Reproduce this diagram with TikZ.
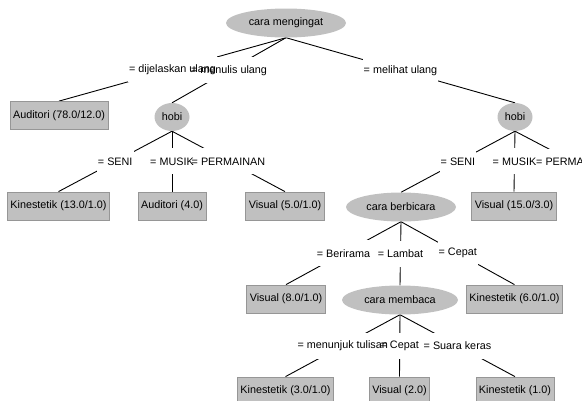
\documentclass[tikz,border=0pt]{standalone}
\usepackage{fontspec}
\setmainfont{Liberation Sans}
\usetikzlibrary{calc,shapes.geometric}
\definecolor{nodegray}{RGB}{192,192,192}
\definecolor{rimgray}{RGB}{150,150,150}
\pgfdeclarelayer{edges}
\pgfdeclarelayer{lbg}
\pgfsetlayers{edges,lbg,main}
\newcommand\elab[3]{%
  \begin{pgfonlayer}{lbg}\node[labbg] (#1) at (#2) {\phantom{#3}};\end{pgfonlayer}
  \node[labtxt] (#1t) at (#1) {#3};}
\begin{document}
\begin{tikzpicture}[x=1pt,y=-1pt,
  every node/.style={font=\fontsize{10.8}{12}\selectfont, text=black},
  oval/.style={ellipse, fill=nodegray, inner sep=0pt},
  leaf/.style={rectangle, fill=nodegray, draw=rimgray, line width=0.8pt, minimum height=28pt, inner xsep=3pt, inner ysep=0pt},
  edge/.style={draw=black, line width=0.9pt},
  labbg/.style={fill=white, inner xsep=1pt, inner ysep=0pt, minimum height=26pt},
  labtxt/.style={inner sep=0pt}]
\useasboundingbox (0,0) rectangle (582,400);
\clip (0,0) rectangle (582,400);
% tree nodes
\node[oval, minimum width=120pt, minimum height=29pt] (root) at (286,23) {cara mengingat};
\node[leaf, minimum width=96pt] (aud1) at (59,115.5) {Auditori (78.0/12.0)};
\node[oval, minimum width=35pt, minimum height=28pt] (hobi1) at (172,117) {hobi};
\node[oval, minimum width=35pt, minimum height=28pt] (hobi2) at (515,117) {hobi};
\node[leaf, minimum width=101pt] (kin1) at (58.5,206) {Kinestetik (13.0/1.0)};
\node[leaf, minimum width=64pt] (aud2) at (172,206) {Auditori (4.0)};
\node[leaf, minimum width=74pt] (vis1) at (285,206) {Visual (5.0/1.0)};
\node[oval, minimum width=110pt, minimum height=29pt] (cb) at (401,207) {cara berbicara};
\node[leaf, minimum width=80pt] (vis2) at (514,206) {Visual (15.0/3.0)};
\coordinate (offc) at (631,192);
\node[leaf, minimum width=76pt] (vis3) at (286,299) {Visual (8.0/1.0)};
\node[oval, minimum width=116pt, minimum height=29pt] (cm) at (400,300) {cara membaca};
\node[leaf, minimum width=95pt] (kin2) at (514.5,299) {Kinestetik (6.0/1.0)};
\node[leaf, minimum width=93pt] (kin3) at (285.5,391) {Kinestetik (3.0/1.0)};
\node[leaf, minimum width=57pt] (vis4) at (399.5,391) {Visual (2.0)};
\node[leaf, minimum width=76pt] (kin4) at (515,391) {Kinestetik (1.0)};
% edges
\begin{pgfonlayer}{edges}
\draw[edge] (root.south) -- (aud1.north);
\draw[edge] (root.south) -- (hobi1.south |- hobi1.north);
\draw[edge] (root.south) -- (hobi2.north);
\draw[edge] (hobi1.south) -- (kin1.north);
\draw[edge] (hobi1.south) -- (aud2.north);
\draw[edge] (hobi1.south) -- (vis1.north);
\draw[edge] (hobi2.south) -- (cb.north);
\draw[edge] (hobi2.south) -- (vis2.north);
\draw[edge] (hobi2.south) -- (offc);
\draw[edge] (cb.south) -- (vis3.north);
\draw[edge] (cb.south) -- (cm.north);
\draw[edge] (cb.south) -- (kin2.north);
\draw[edge] (cm.south) -- (kin3.north);
\draw[edge] (cm.south) -- (vis4.north);
\draw[edge] (cm.south) -- (kin4.north);
\end{pgfonlayer}
% edge labels
\elab{la}{$(root.south)!.5!(aud1.north)$}{= dijelaskan ulang}
\elab{lb}{$(root.south)!.5!(hobi1.north)$}{= menulis ulang}
\elab{lc}{$(root.south)!.5!(hobi2.north)$}{= melihat ulang}
\elab{ld}{$(hobi1.south)!.5!(kin1.north)$}{= SENI}
\elab{le}{$(hobi1.south)!.5!(aud2.north)$}{= MUSIK}
\elab{lf}{$(hobi1.south)!.5!(vis1.north)$}{= PERMAINAN}
\elab{lg}{$(hobi2.south)!.5!(cb.north)$}{= SENI}
\elab{lh}{$(hobi2.south)!.5!(vis2.north)$}{= MUSIK}
\elab{li}{$(hobi2.south)!.5!(offc)$}{= PERMAINAN}
\elab{lj}{$(cb.south)!.5!(vis3.north)$}{= Berirama}
\elab{lk}{$(cb.south)!.5!(cm.north)$}{= Lambat}
\elab{ll}{$(cb.south)!.5!(kin2.north)$}{= Cepat}
\elab{lm}{$(cm.south)!.5!(kin3.north)$}{= menunjuk tulisan}
\elab{ln}{$(cm.south)!.5!(vis4.north)$}{= Cepat}
\elab{lo}{$(cm.south)!.5!(kin4.north)$}{= Suara keras}
\end{tikzpicture}
\end{document}
